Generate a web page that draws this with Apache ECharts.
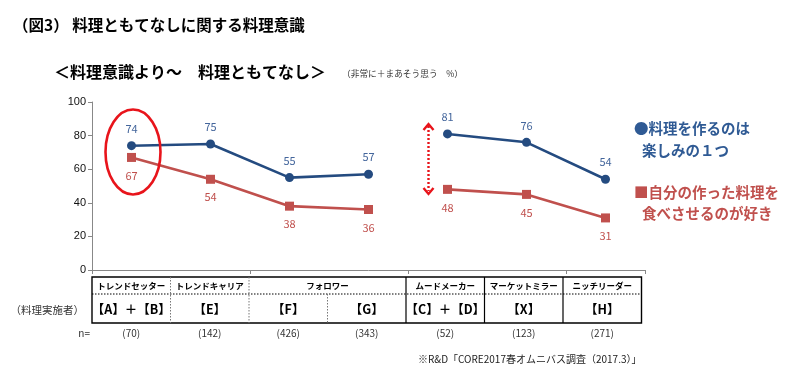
<!DOCTYPE html>
<html><head><meta charset="utf-8">
<script src="https://cdn.jsdelivr.net/npm/echarts@6/dist/echarts.min.js"></script>
<style>html,body{margin:0;padding:0;background:#fff}</style>
</head>
<body>
<div id="c" style="width:800px;height:374px"></div>
<script>
// ---- data ----
const categories = ['トレンドセッター','トレンドキャリア','フォロワーF','フォロワーG','ムードメーカー','マーケットミラー','ニッチリーダー'];
const segmentHeaders = ['トレンドセッター','トレンドキャリア','フォロワー','ムードメーカー','マーケットミラー','ニッチリーダー'];
const segmentSpans = [1,1,2,1,1,1];
const groupLetters = ['【A】＋【B】','【E】','【F】','【G】','【C】＋【D】','【X】','【H】'];
const sampleSizes = ['(70)','(142)','(426)','(343)','(52)','(123)','(271)'];
const enjoyCooking = [74,75,55,57,81,76,54];
const likeFeeding = [67,54,38,36,48,45,31];
const breakAfter = 4; // line break between group 4 and 5
const yTicks = [0,20,40,60,80,100];

const FONT = '"Noto Sans CJK JP", "Noto Sans", sans-serif';
const BLUE = '#244B80', BLUE_L = '#44669C', RED = '#C0504D', ALERT = '#E8141B';

const part = (arr, first) => arr.map((v,i) => (first ? i < breakAfter : i >= breakAfter) ? v : null);

const chart = echarts.init(document.getElementById('c'));

function lineSeries(name, data, color, labelColor, symbol, pos) {
  return {
    name, type: 'line', data, symbol, symbolSize: 9,
    connectNulls: false,
    lineStyle: { color, width: 2.6 },
    itemStyle: { color },
    label: { show: true, position: pos, distance: pos === 'top' ? 7 : 8, color: labelColor, fontSize: 11, fontFamily: FONT },
    emphasis: { disabled: true }, z: 3
  };
}

// table geometry
const T = { left: 92, colW: 78.5, top: 277, mid: 294, bottom: 323, nY: 333 };
const colX = i => T.left + T.colW * i;
const graphic = [];
graphic.push({ type: 'rect', shape: { x: T.left, y: T.top, width: T.colW * 7, height: T.bottom - T.top },
  style: { fill: null, stroke: '#000', lineWidth: 1.4 } });
graphic.push({ type: 'line', shape: { x1: T.left, y1: T.mid, x2: colX(7), y2: T.mid },
  style: { stroke: '#000', lineWidth: 1, lineDash: [1.5, 1.5] } });
for (let i = 1; i < 7; i++) {
  const dotted = i < breakAfter;
  const top = (i === 3) ? T.mid : T.top;
  graphic.push({ type: 'line', shape: { x1: colX(i), y1: top, x2: colX(i), y2: T.bottom },
    style: dotted ? { stroke: '#777', lineWidth: 1, lineDash: [1.5, 1.5] } : { stroke: '#000', lineWidth: 1.2 } });
}
let c = 0;
segmentHeaders.forEach((h, k) => {
  const span = segmentSpans[k];
  graphic.push({ type: 'text', x: colX(c) + T.colW * span / 2, y: (T.top + T.mid) / 2 + 0.5,
    style: { text: h, fontSize: 8.5, fontWeight: 'bold', fontFamily: FONT, fill: '#000', align: 'center', verticalAlign: 'middle' } });
  c += span;
});
groupLetters.forEach((g, i) => {
  graphic.push({ type: 'text', x: colX(i) + T.colW / 2, y: (T.mid + T.bottom) / 2 + 1,
    style: { text: g, fontSize: 12.5, fontWeight: 'bold', fontFamily: FONT, fill: '#000', align: 'center', verticalAlign: 'middle' } });
  graphic.push({ type: 'text', x: colX(i) + T.colW / 2, y: T.nY,
    style: { text: sampleSizes[i], fontSize: 10, fontFamily: FONT, fill: '#333', align: 'center', verticalAlign: 'middle' } });
});
graphic.push({ type: 'text', x: 84, y: 310, style: { text: '（料理実施者）', fontSize: 10.5, fontFamily: FONT, fill: '#333', align: 'right', verticalAlign: 'middle' } });
graphic.push({ type: 'text', x: 90, y: T.nY, style: { text: 'n=', fontSize: 10, fontFamily: FONT, fill: '#333', align: 'right', verticalAlign: 'middle' } });
graphic.push({ type: 'text', x: 418, y: 359, style: { text: '※R&D「CORE2017春オムニバス調査（2017.3）」', fontSize: 10, fontFamily: FONT, fill: '#222', align: 'left', verticalAlign: 'middle' } });

graphic.push({ type: 'text', x: 13, y: 25, style: { text: '（図3） 料理ともてなしに関する料理意識', fontSize: 15.5, fontWeight: 'bold', fontFamily: FONT, fill: '#000', verticalAlign: 'middle' } });
graphic.push({ type: 'text', x: 54, y: 72, style: { text: '＜料理意識より～　料理ともてなし＞', fontSize: 16, fontWeight: 'bold', fontFamily: FONT, fill: '#000', verticalAlign: 'middle' } });
graphic.push({ type: 'text', x: 342, y: 74, style: { text: '（非常に＋まあそう思う　%）', fontSize: 8.7, fontFamily: FONT, fill: '#333', verticalAlign: 'middle' } });

graphic.push({ type: 'text', x: 634, y: 128, style: { text: '●料理を作るのは', fontSize: 14.5, fontWeight: 'bold', fontFamily: FONT, fill: '#2F5A94', verticalAlign: 'middle' } });
graphic.push({ type: 'text', x: 642, y: 150, style: { text: '楽しみの１つ', fontSize: 14.5, fontWeight: 'bold', fontFamily: FONT, fill: '#2F5A94', verticalAlign: 'middle' } });
graphic.push({ type: 'text', x: 634, y: 192, style: { text: '■自分の作った料理を', fontSize: 14.5, fontWeight: 'bold', fontFamily: FONT, fill: RED, verticalAlign: 'middle' } });
graphic.push({ type: 'text', x: 642, y: 213, style: { text: '食べさせるのが好き', fontSize: 14.5, fontWeight: 'bold', fontFamily: FONT, fill: RED, verticalAlign: 'middle' } });

graphic.push({ type: 'ellipse', shape: { cx: 133, cy: 152, rx: 27.5, ry: 42.5 },
  style: { fill: null, stroke: ALERT, lineWidth: 2.6 }, z: 10 });
graphic.push({ type: 'line', shape: { x1: 428.5, y1: 126, x2: 428.5, y2: 191 },
  style: { stroke: ALERT, lineWidth: 2.4, lineDash: [2, 2] }, z: 10 });
graphic.push({ type: 'polyline', shape: { points: [[423.5, 130], [428.5, 124], [433.5, 130]] },
  style: { fill: null, stroke: ALERT, lineWidth: 2.4 }, z: 10 });
graphic.push({ type: 'polyline', shape: { points: [[423.5, 188], [428.5, 194], [433.5, 188]] },
  style: { fill: null, stroke: ALERT, lineWidth: 2.4 }, z: 10 });

chart.setOption({
  animation: false,
  backgroundColor: '#fff',
  textStyle: { fontFamily: FONT },
  grid: { left: 92, right: 155, top: 102, bottom: 104, containLabel: false },
  xAxis: {
    type: 'category', data: categories, boundaryGap: true,
    axisLine: { lineStyle: { color: '#888', width: 1 } },
    axisTick: { show: true, length: 4, lineStyle: { color: '#888' } },
    axisLabel: { show: false }, splitLine: { show: false }
  },
  yAxis: {
    type: 'value', min: yTicks[0], max: yTicks[yTicks.length - 1], interval: 20,
    axisLine: { show: true, lineStyle: { color: '#888', width: 1 } },
    axisTick: { show: true, length: 4, lineStyle: { color: '#888' } },
    axisLabel: { color: '#111', fontSize: 11, margin: 6, fontFamily: 'Liberation Sans, Arial, sans-serif' },
    splitLine: { show: false }
  },
  series: [
    lineSeries('料理を作るのは楽しみの１つ', part(enjoyCooking, true), BLUE, BLUE_L, 'circle', 'top'),
    lineSeries('料理を作るのは楽しみの１つ', part(enjoyCooking, false), BLUE, BLUE_L, 'circle', 'top'),
    lineSeries('自分の作った料理を食べさせるのが好き', part(likeFeeding, true), RED, RED, 'rect', 'bottom'),
    lineSeries('自分の作った料理を食べさせるのが好き', part(likeFeeding, false), RED, RED, 'rect', 'bottom')
  ],
  graphic: graphic
});
</script>
</body></html>
